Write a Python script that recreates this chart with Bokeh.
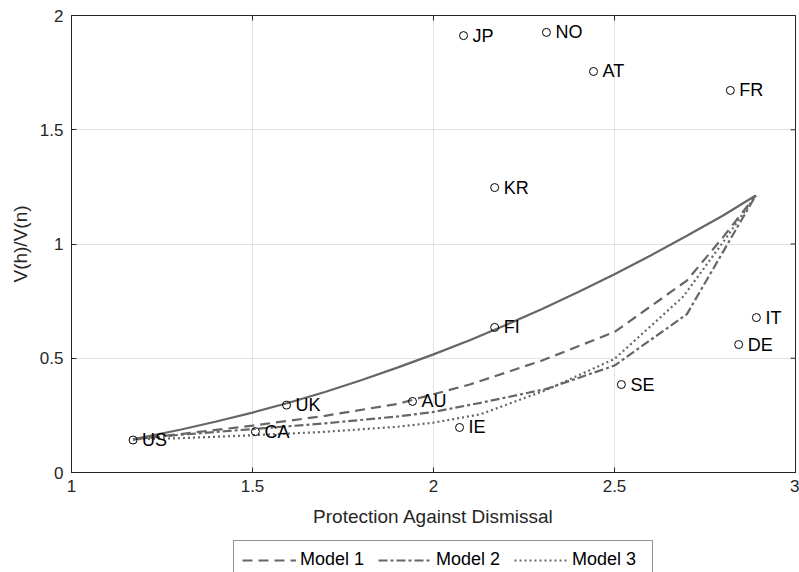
import math
from bokeh.plotting import figure
from bokeh.layouts import column
from bokeh.models import Legend, LegendItem, FixedTicker, Range1d
from bokeh.embed import file_html
from bokeh.resources import INLINE
from bokeh.core.properties import value

# ---- data ----
countries = ["US", "CA", "UK", "AU", "IE", "FI", "KR", "SE", "JP", "NO", "AT", "FR", "IT", "DE"]
protection = [1.17, 1.508, 1.594, 1.942, 2.072, 2.169, 2.169, 2.519, 2.083, 2.312, 2.442, 2.820, 2.892, 2.843]
ratio = [0.142, 0.179, 0.295, 0.311, 0.197, 0.635, 1.247, 0.385, 1.912, 1.926, 1.755, 1.672, 0.678, 0.560]

solid_x = [1.17, 1.3, 1.4, 1.5, 1.6, 1.7, 1.8, 1.9, 2.0, 2.1, 2.2, 2.3, 2.4, 2.5, 2.6, 2.7, 2.8, 2.89]
solid_y = [0.145, 0.187, 0.223, 0.262, 0.305, 0.352, 0.404, 0.459, 0.517, 0.579, 0.646, 0.716, 0.790,
           0.868, 0.950, 1.036, 1.125, 1.212]

model1_x = [1.17, 1.3, 1.5, 1.7, 1.9, 2.1, 2.3, 2.5, 2.7, 2.8, 2.89]
model1_y = [0.145, 0.168, 0.205, 0.248, 0.300, 0.385, 0.490, 0.615, 0.840, 1.030, 1.212]

model2_x = [1.17, 1.3, 1.5, 1.7, 1.9, 2.0, 2.13, 2.31, 2.5, 2.7, 2.89]
model2_y = [0.145, 0.165, 0.190, 0.215, 0.245, 0.265, 0.305, 0.365, 0.468, 0.693, 1.212]

model3_x = [1.17, 1.3, 1.5, 1.7, 1.9, 2.0, 2.13, 2.31, 2.5, 2.69, 2.81, 2.89]
model3_y = [0.145, 0.150, 0.163, 0.178, 0.200, 0.218, 0.255, 0.360, 0.497, 0.770, 1.030, 1.212]

legend_labels = ["Model 1", "Model 2", "Model 3"]

x_ticks = [1, 1.5, 2, 2.5, 3]
x_tick_labels = ["1", "1.5", "2", "2.5", "3"]
y_ticks = [0, 0.5, 1, 1.5, 2]
y_tick_labels = ["0", "0.5", "1", "1.5", "2"]

FONT = "Liberation Sans"
AX = "#262626"
LINE = "#666666"
DASHES = ["10 6", "9 3 3 3", "2 3"]
LW = 2.2

p = figure(width=799, height=536, x_range=Range1d(x_ticks[0], x_ticks[-1]),
           y_range=Range1d(y_ticks[0], y_ticks[-1]),
           output_backend="svg", toolbar_location=None,
           min_border_left=71, min_border_right=4, min_border_top=15, min_border_bottom=64)
p.background_fill_color = "white"
p.border_fill_color = "white"
p.outline_line_color = AX
p.outline_line_width = 1

p.xaxis.ticker = FixedTicker(ticks=x_ticks)
p.yaxis.ticker = FixedTicker(ticks=y_ticks)
p.xaxis.major_label_overrides = dict(zip(x_ticks, x_tick_labels))
p.yaxis.major_label_overrides = dict(zip(y_ticks, y_tick_labels))

for ax in [p.xaxis[0], p.yaxis[0]]:
    ax.major_tick_in = 5
    ax.major_tick_out = 0
    ax.minor_tick_in = 0
    ax.minor_tick_out = 0
    ax.axis_line_color = AX
    ax.major_tick_line_color = AX
    ax.major_label_text_font = FONT
    ax.major_label_text_font_size = "17px"
    ax.major_label_text_color = AX
    ax.axis_label_text_font = FONT
    ax.axis_label_text_font_size = "19px"
    ax.axis_label_text_font_style = "normal"
    ax.axis_label_text_color = AX

p.xaxis.major_label_standoff = 7
p.xaxis.axis_label = "Protection Against Dismissal"
p.xaxis.axis_label_standoff = 11
p.yaxis.major_label_standoff = 8
p.yaxis.axis_label = "V(h)/V(n)"
p.yaxis.axis_label_standoff = 6

p.xgrid.ticker = FixedTicker(ticks=x_ticks)
p.ygrid.ticker = FixedTicker(ticks=y_ticks)
p.grid.grid_line_color = "#e2e2e2"
p.grid.grid_line_width = 1

# inward tick marks on the top and right edges of the box (half clipped by the frame)
p.scatter(x_ticks, [y_ticks[-1]] * len(x_ticks), marker="dash", size=10, angle=math.pi / 2,
          line_color=AX, line_width=1)
p.scatter([x_ticks[-1]] * len(y_ticks), y_ticks, marker="dash", size=10,
          line_color=AX, line_width=1)

p.line(solid_x, solid_y, line_color=LINE, line_width=LW)
p.line(model1_x, model1_y, line_color=LINE, line_width=LW, line_dash=DASHES[0])
p.line(model2_x, model2_y, line_color=LINE, line_width=LW, line_dash=DASHES[1])
p.line(model3_x, model3_y, line_color=LINE, line_width=LW, line_dash=DASHES[2])

p.scatter(protection, ratio, marker="circle", size=8, fill_color=None,
          line_color="black", line_width=1)
p.text(x=protection, y=ratio, text=countries, x_offset=9, text_align="left",
       text_baseline="middle", text_font=value(FONT), text_font_size="18px",
       text_color="black")

# ---- legend strip below the axes (same series, drawn outside this strip's view) ----
pl = figure(width=799, height=36, x_range=Range1d(x_ticks[0], x_ticks[-1]),
            y_range=Range1d(10, 11), output_backend="svg", toolbar_location=None,
            min_border_left=0, min_border_right=0, min_border_top=0, min_border_bottom=0)
pl.axis.visible = False
pl.grid.visible = False
pl.outline_line_color = None
pl.background_fill_color = "white"
pl.border_fill_color = "white"

leg_renderers = []
for (mx, my), dash in zip([(model1_x, model1_y), (model2_x, model2_y), (model3_x, model3_y)], DASHES):
    leg_renderers.append(pl.line(mx, my, line_color=LINE, line_width=LW, line_dash=dash))

legend = Legend(items=[LegendItem(label=lab, renderers=[r]) for lab, r in zip(legend_labels, leg_renderers)],
                orientation="horizontal", location=(162, -7), glyph_width=54, glyph_height=20,
                label_standoff=4, spacing=6, padding=8, margin=0, label_width=72, label_height=20,
                label_text_font=FONT, label_text_font_size="18px", label_text_color="black",
                border_line_color=AX, border_line_width=1, background_fill_color="white",
                background_fill_alpha=1)
pl.add_layout(legend)

layout = column(p, pl, spacing=0)
open("out.html", "w").write(file_html(layout, INLINE))
